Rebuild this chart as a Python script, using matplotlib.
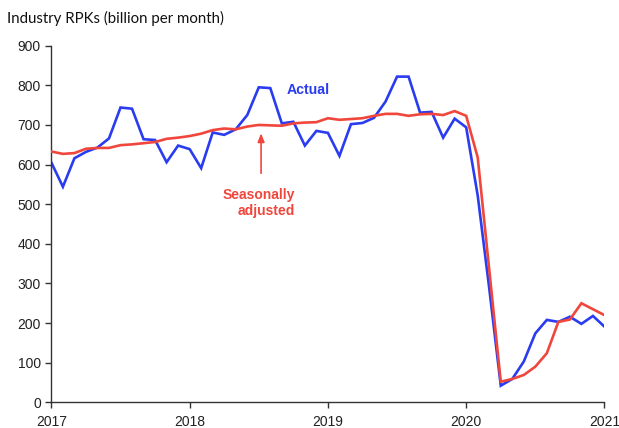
import matplotlib
matplotlib.use("Agg")
import matplotlib.pyplot as plt
import numpy as np

years = ["2017", "2018", "2019", "2020", "2021"]
actual = [605, 544, 616, 632, 643, 666, 744, 741, 664, 662, 606, 648,
          639, 591, 681, 675, 689, 725, 795, 793, 704, 708, 648, 685,
          680, 622, 702, 705, 718, 759, 822, 822, 731, 733, 668, 716,
          694, 522, 288, 42, 59, 103, 174, 208, 203, 216, 198, 218,
          191]
seas_adj = [633, 627, 629, 640, 642, 642, 649, 651, 654, 657, 665, 668,
            672, 678, 687, 691, 689, 696, 700, 699, 698, 704, 706, 707,
            717, 713, 715, 717, 723, 728, 728, 723, 727, 728, 725, 735,
            723, 618, 335, 52, 59, 69, 90, 124, 203, 209, 250, 235,
            220]

months = np.arange(len(actual))

fig = plt.figure(figsize=(6.19, 4.28), dpi=100)
ax = fig.add_axes([0.0830, 0.0600, 0.8935, 0.8332])

blue = "#2a3cf0"
red = "#f0463c"
ax.plot(months, actual, color=blue, lw=1.9, solid_joinstyle="miter", zorder=2)
ax.plot(months, seas_adj, color=red, lw=1.9, solid_joinstyle="miter", zorder=3)

ax.set_xlim(0, 48)
ax.set_ylim(0, 900)
ax.set_xticks(np.arange(0, 49, 12))
ax.set_xticklabels(years)
ax.set_yticks(np.arange(0, 901, 100))

for s in ["top", "right"]:
    ax.spines[s].set_visible(False)
for s in ["left", "bottom"]:
    ax.spines[s].set_color("#333333")
    ax.spines[s].set_linewidth(1.0)
ax.tick_params(axis="both", direction="out", length=4, width=1.0,
               color="#333333", labelsize=10, labelcolor="#222222")
ax.tick_params(axis="x", pad=5)
for lab in ax.get_xticklabels() + ax.get_yticklabels():
    lab.set_fontfamily("Liberation Sans")

fig.text(0.011, 0.956, "Industry RPKs (billion per month)", fontsize=10.8,
         family="Lato", color="#111111", ha="left", va="center")

ax.text(22.3, 789, "Actual", color=blue, fontsize=10.2, fontweight="bold",
        family="Liberation Sans", ha="center", va="center")
ax.text(21.1, 503, "Seasonally\nadjusted", color=red, fontsize=10,
        fontweight="bold", family="Liberation Sans", ha="right", va="center",
        multialignment="right", linespacing=1.15)
ax.annotate("", xy=(18.2, 686), xytext=(18.2, 571),
            arrowprops=dict(arrowstyle="-|>,head_length=0.5,head_width=0.2",
                            color=red, lw=1.2))

fig.savefig("out.png", dpi=100)
